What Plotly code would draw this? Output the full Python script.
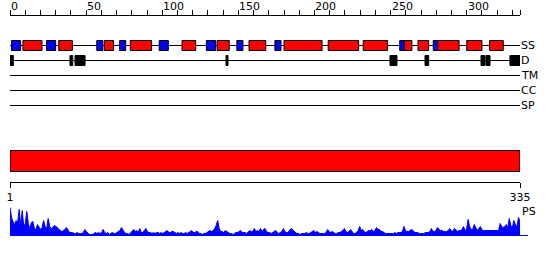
import plotly.graph_objects as go

# ---------------- data ----------------
seq_len = 335
top_tick_labels = [0, 50, 100, 150, 200, 250, 300]
track_names = ["SS", "D", "TM", "CC", "SP"]

# secondary structure (residue start, end)
strand_start = [1, 24, 57, 72, 98, 129, 149, 174, 256, 278]
strand_end = [7, 30, 61, 76, 104, 135, 153, 178, 259, 281]
helix_start = [8.5, 32, 62, 79, 113, 136, 157, 180, 209, 232, 259, 268, 281, 300, 315]
helix_end = [21, 41, 68, 93, 122, 144, 168, 205, 229, 248, 264, 275, 295, 310, 324]

# disordered segments
dis_start = [0, 39.4, 42.7, 141.9, 249.6, 272.6, 309.4, 312.7, 328.4]
dis_end = [2.2, 41.2, 49.3, 143.2, 254.2, 275.0, 312.0, 315.3, 335.4]

# domain bar
domain_start = [0]
domain_end = [335]

# PS profile, residues 1..335
ps_values = [
    28, 18, 14, 11, 15, 13, 26, 10, 25, 9, 12, 24, 12, 6, 13, 14, 7, 6, 11, 9,
    6, 8, 15, 9, 7, 17, 9, 7, 8, 10, 9, 8, 6, 5, 4, 5, 6, 8, 5, 3,
    3, 3, 2, 2, 3, 2, 2, 2, 3, 6, 4, 2, 1, 1, 1, 2, 3, 2, 3, 2,
    3, 6, 3, 2, 3, 1, 2, 3, 2, 2, 3, 4, 5, 8, 5, 3, 2, 2, 1, 3,
    5, 6, 4, 5, 3, 7, 3, 3, 5, 7, 4, 3, 3, 2, 3, 2, 3, 3, 2, 3,
    2, 3, 4, 5, 3, 3, 4, 4, 3, 2, 3, 2, 3, 2, 2, 3, 2, 3, 4, 5,
    3, 3, 4, 4, 2, 2, 1, 2, 2, 3, 4, 5, 4, 5, 7, 10, 15, 7, 4, 4,
    3, 5, 4, 3, 2, 2, 1, 2, 3, 3, 4, 5, 3, 3, 3, 2, 4, 5, 4, 4,
    7, 4, 5, 4, 7, 4, 6, 7, 4, 3, 3, 2, 3, 4, 5, 3, 2, 3, 4, 7,
    4, 3, 3, 5, 7, 6, 4, 3, 2, 2, 1, 2, 2, 2, 3, 2, 2, 3, 4, 5,
    3, 4, 3, 2, 2, 2, 2, 3, 6, 4, 3, 4, 3, 2, 2, 3, 3, 4, 5, 7,
    4, 3, 4, 6, 4, 2, 2, 3, 5, 9, 5, 6, 4, 3, 4, 5, 5, 6, 4, 5,
    8, 6, 6, 4, 4, 3, 2, 2, 2, 2, 2, 2, 3, 2, 3, 3, 3, 4, 9, 5,
    4, 4, 5, 6, 5, 3, 3, 3, 2, 2, 2, 2, 3, 3, 3, 4, 7, 4, 4, 5,
    8, 6, 5, 5, 4, 4, 4, 5, 7, 5, 4, 7, 5, 4, 5, 5, 6, 9, 5, 6,
    16, 9, 6, 6, 11, 7, 5, 7, 9, 6, 5, 5, 5, 5, 5, 5, 5, 5, 5, 5,
    5, 12, 9, 8, 9, 11, 8, 17, 10, 8, 15, 11, 9, 18, 14,
]
residues = list(range(1, seq_len + 1))

# ---------------- layout helpers ----------------
W, H = 550, 260
FONT = "DejaVu Sans"
RED, BLUE, BLACK = "#FF0000", "#0000FF", "#000000"
row_y = {"SS": 45.5, "D": 60.5, "TM": 75.5, "CC": 90.5, "SP": 105.5}
dom_l, dom_r = 10 / W, 520 / W

fig = go.Figure()

# track base lines (trace on x / y)
lx, ly = [], []
for name in track_names:
    lx += [0, seq_len, None]
    ly += [row_y[name], row_y[name], None]
fig.add_trace(go.Scatter(x=lx, y=ly, mode="lines", xaxis="x", yaxis="y",
                         line=dict(color=BLACK, width=1), hoverinfo="skip",
                         showlegend=False))

# PS profile
fig.add_trace(go.Scatter(x=residues, y=ps_values, mode="lines", xaxis="x2", yaxis="y2",
                         fill="tozeroy", fillcolor=BLUE,
                         line=dict(color=BLUE, width=1), hoverinfo="skip",
                         showlegend=False))

shapes = []
for s, e in zip(strand_start, strand_end):
    shapes.append(dict(type="rect", xref="x", yref="y", x0=s, x1=e,
                       y0=row_y["SS"] - 5, y1=row_y["SS"] + 5,
                       fillcolor=BLUE, line=dict(color=BLACK, width=1), layer="above"))
for s, e in zip(helix_start, helix_end):
    shapes.append(dict(type="rect", xref="x", yref="y", x0=s, x1=e,
                       y0=row_y["SS"] - 5, y1=row_y["SS"] + 5,
                       fillcolor=RED, line=dict(color=BLACK, width=1), layer="above"))
for s, e in zip(dis_start, dis_end):
    shapes.append(dict(type="rect", xref="x", yref="y", x0=s, x1=e,
                       y0=row_y["D"] - 5, y1=row_y["D"] + 5,
                       fillcolor=BLACK, line=dict(color=BLACK, width=1), layer="above"))
for s, e in zip(domain_start, domain_end):
    shapes.append(dict(type="rect", xref="x", yref="y", x0=s, x1=e,
                       y0=150.5, y1=171.5,
                       fillcolor=RED, line=dict(color=BLACK, width=1), layer="above"))
# baseline of PS profile
shapes.append(dict(type="line", xref="paper", yref="y2", x0=dom_l, x1=528 / W,
                   y0=0, y1=0, line=dict(color=BLUE, width=1)))

annotations = []
for t in top_tick_labels:
    annotations.append(dict(x=t, y=6.5, xref="x", yref="y", text=str(t),
                            xanchor="left", yanchor="middle", showarrow=False,
                            xshift=-1, font=dict(family=FONT, size=11, color=BLACK)))
for name in track_names:
    annotations.append(dict(x=seq_len, y=row_y[name], xref="x", yref="y", text=name,
                            xanchor="left", yanchor="middle", showarrow=False,
                            xshift=-1, font=dict(family=FONT, size=11, color=BLACK)))
annotations.append(dict(x=seq_len, y=211, xref="x2", yref="y", text="PS",
                        xanchor="left", yanchor="middle", showarrow=False,
                        font=dict(family=FONT, size=11, color=BLACK)))

top_ticks = list(range(0, seq_len, 10)) + [seq_len]

fig.update_layout(
    template="none",
    width=W, height=H, margin=dict(l=0, r=0, t=0, b=0, pad=0, autoexpand=False),
    paper_bgcolor="white", plot_bgcolor="white", showlegend=False,
    font=dict(family=FONT, size=11, color=BLACK),
    xaxis=dict(domain=[dom_l, dom_r], range=[0, seq_len], anchor="free",
               position=1 - 14.5 / H, side="top", showline=True, linecolor=BLACK,
               linewidth=1, ticks="outside", ticklen=5, tickwidth=1, tickcolor=BLACK,
               tickvals=top_ticks, showticklabels=False, showgrid=False,
               zeroline=False, fixedrange=True, automargin=False),
    yaxis=dict(domain=[0, 1], range=[H, 0], visible=False, anchor="x",
               fixedrange=True, automargin=False),
    xaxis2=dict(domain=[dom_l, dom_r], range=[1, seq_len], anchor="free",
                position=1 - 181.5 / H, side="bottom", showline=True, linecolor=BLACK,
                linewidth=1, ticks="outside", ticklen=5, tickwidth=1, tickcolor=BLACK,
                tickvals=[1, seq_len], ticktext=["1", str(seq_len)],
                tickfont=dict(family=FONT, size=11, color=BLACK),
                showgrid=False, zeroline=False, fixedrange=True, automargin=False),
    yaxis2=dict(domain=[(H - 240) / H, (H - 205.5) / H], range=[-4.5, 30],
                visible=False, anchor="x2", fixedrange=True, automargin=False),
    shapes=shapes, annotations=annotations,
)

fig.write_html("out.html")
